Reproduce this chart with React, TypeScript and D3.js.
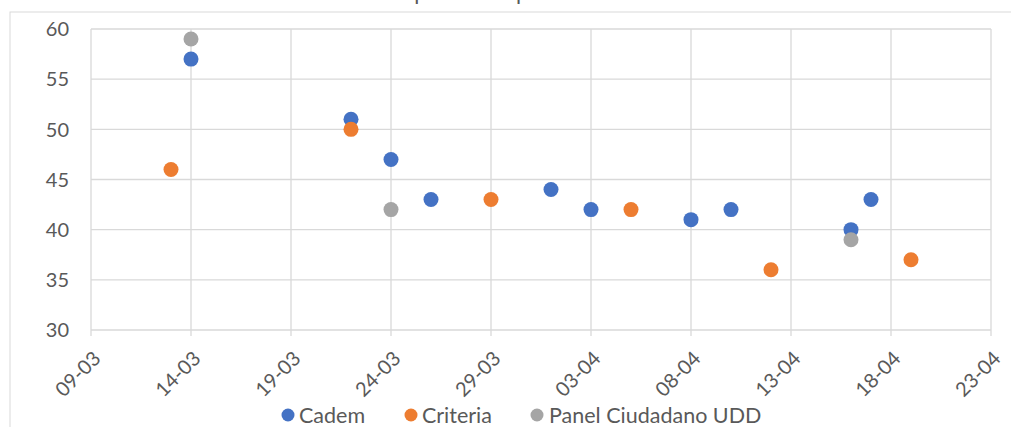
import React from 'react';
import * as d3 from 'd3';

const cademDates = ['2022-03-14', '2022-03-22', '2022-03-24', '2022-03-26', '2022-04-01', '2022-04-03', '2022-04-08', '2022-04-10', '2022-04-16', '2022-04-17'];
const cademValues = [57, 51, 47, 43, 44, 42, 41, 42, 40, 43];
const criteriaDates = ['2022-03-13', '2022-03-22', '2022-03-29', '2022-04-05', '2022-04-12', '2022-04-19'];
const criteriaValues = [46, 50, 43, 42, 36, 37];
const panelDates = ['2022-03-14', '2022-03-24', '2022-04-16'];
const panelValues = [59, 42, 39];
const xTickDates = ['2022-03-09', '2022-03-14', '2022-03-19', '2022-03-24', '2022-03-29', '2022-04-03', '2022-04-08', '2022-04-13', '2022-04-18', '2022-04-23'];
const yTicks = [30, 35, 40, 45, 50, 55, 60];

const W = 1011;
const H = 427;
const FONT = 'Lato, "Open Sans", sans-serif';
const TEXT = '#595959';
const GRID = '#d9d9d9';

interface Series {
  name: string;
  color: string;
  dates: string[];
  values: number[];
}

const series: Series[] = [
  { name: 'Cadem', color: '#4472c4', dates: cademDates, values: cademValues },
  { name: 'Criteria', color: '#ed7d31', dates: criteriaDates, values: criteriaValues },
  { name: 'Panel Ciudadano UDD', color: '#a5a5a5', dates: panelDates, values: panelValues },
];

const parse = (s: string) => new Date(s + 'T00:00:00Z');
const fmt = d3.utcFormat('%d-%m');

export default function App() {
  const x = d3
    .scaleUtc()
    .domain([parse(xTickDates[0]), parse(xTickDates[xTickDates.length - 1])])
    .range([91, 991]);
  const y = d3.scaleLinear().domain([30, 60]).range([330, 29]);

  // legend positions (marker x, text x)
  const legend = [
    { mx: 288, tx: 299 },
    { mx: 411, tx: 422 },
    { mx: 537, tx: 549 },
  ];
  const legendY = 415;

  return (
    <svg
      width={W}
      height={H}
      style={{ position: 'absolute', left: 0, top: 0, background: '#fff' }}
      fontFamily={FONT}
    >
      {/* chart frame */}
      <rect x={10} y={12} width={W + 10} height={H + 10} fill="#fff" stroke={GRID} strokeWidth={1} />

      {/* title, cropped at the top edge as in the source */}
      <text x={515} y={0} textAnchor="middle" fontSize={22} fill={TEXT}>
        Aprobación presidencial
      </text>

      {/* horizontal gridlines */}
      {yTicks.map(t => (
        <g key={t}>
          <line x1={91} x2={991} y1={y(t)} y2={y(t)} stroke={GRID} strokeWidth={1.3} />
          <text x={69} y={y(t)} dy="0.36em" textAnchor="end" fontSize={20} fill={TEXT}>
            {t}
          </text>
        </g>
      ))}

      {/* vertical gridlines, ticks and labels */}
      {xTickDates.map(s => {
        const px = x(parse(s));
        return (
          <g key={s}>
            <line x1={px} x2={px} y1={y(60)} y2={y(30) + 6} stroke={GRID} strokeWidth={1.3} />
            <text
              transform={`translate(${px + 1},${y(30) + 20}) rotate(-45)`}
              textAnchor="end"
              dy="0.7em"
              fontSize={20}
              fill={TEXT}
            >
              {fmt(parse(s))}
            </text>
          </g>
        );
      })}

      {/* points */}
      {series.map(sr => (
        <g key={sr.name}>
          {sr.dates.map((d, i) => (
            <circle key={d} cx={x(parse(d))} cy={y(sr.values[i])} r={7.5} fill={sr.color} />
          ))}
        </g>
      ))}

      {/* legend */}
      {series.map((sr, i) => (
        <g key={sr.name}>
          <circle cx={legend[i].mx} cy={legendY} r={6.5} fill={sr.color} />
          <text x={legend[i].tx} y={legendY} dy="0.36em" fontSize={21.5} fill={TEXT}>
            {sr.name}
          </text>
        </g>
      ))}
    </svg>
  );
}
